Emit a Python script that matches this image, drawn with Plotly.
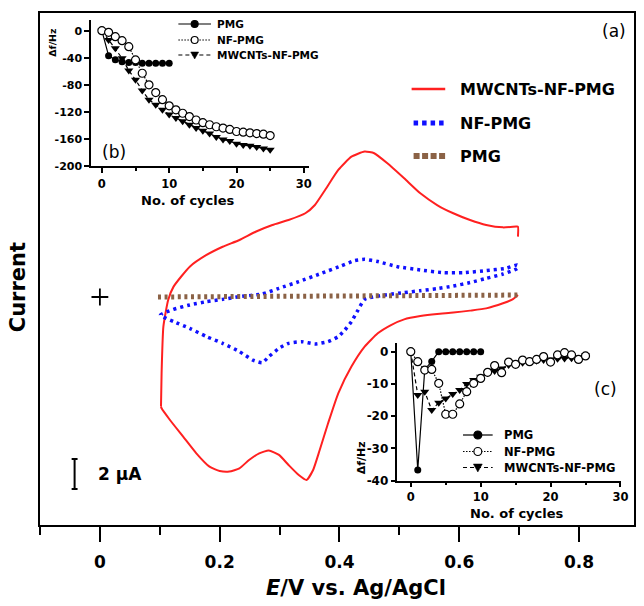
import plotly.graph_objects as go

# ---------------- main CV data (E / V, I / uA) ----------------
MW_E_fwd = [0.102, 0.103, 0.106, 0.114, 0.123, 0.150, 0.178, 0.205, 0.233, 0.260, 0.288, 0.315, 0.343, 0.359,
            0.376, 0.398, 0.420, 0.442, 0.458, 0.480, 0.508, 0.535, 0.563, 0.590, 0.618, 0.645, 0.673, 0.695,
            0.698, 0.698]
MW_I_fwd = [-7.31, -5.09, -1.98, -0.2, 0.69, 2.02, 2.8, 3.35, 3.8, 4.35, 4.8, 5.13, 5.58, 6.13,
            7.13, 8.47, 9.35, 9.69, 9.58, 8.91, 7.91, 6.91, 6.13, 5.58, 5.13, 4.8, 4.64, 4.69,
            4.69, 4.02]
MW_E_rev = [0.698, 0.689, 0.673, 0.645, 0.618, 0.590, 0.563, 0.535, 0.508, 0.486, 0.464, 0.442, 0.420,
            0.398, 0.381, 0.367, 0.356, 0.345, 0.332, 0.315, 0.299, 0.282, 0.266, 0.249, 0.233, 0.216,
            0.200, 0.183, 0.161, 0.139, 0.117, 0.103, 0.102]
MW_I_rev = [0.13, -0.16, -0.42, -0.76, -0.91, -1.04, -1.13, -1.27, -1.49, -1.87, -2.42, -3.31, -4.64,
            -6.42, -8.42, -10.2, -11.53, -12.2, -11.87, -11.2, -10.53, -10.24, -10.42, -10.87, -11.42, -11.64,
            -11.6, -11.31, -10.42, -9.31, -8.2, -7.42, -7.31]

NF_E_fwd = [0.101, 0.123, 0.150, 0.178, 0.205, 0.233, 0.271, 0.299, 0.332, 0.370, 0.403, 0.425, 0.442,
            0.464, 0.497, 0.535, 0.574, 0.607, 0.645, 0.678, 0.697]
NF_I_fwd = [-1.2, -0.82, -0.53, -0.31, -0.16, 0.02, 0.2, 0.58, 1.02, 1.58, 2.07, 2.42, 2.51,
            2.36, 2.02, 1.8, 1.62, 1.62, 1.76, 1.91, 2.13]
NF_E_rev = [0.697, 0.673, 0.645, 0.618, 0.590, 0.563, 0.535, 0.508, 0.475, 0.442, 0.431, 0.420, 0.409,
            0.398, 0.381, 0.359, 0.337, 0.315, 0.299, 0.282, 0.271, 0.255, 0.233, 0.205, 0.178, 0.150,
            0.123, 0.101]
NF_I_rev = [1.91, 1.53, 1.24, 0.96, 0.73, 0.56, 0.42, 0.29, 0.13, -0.16, -0.87, -1.64, -2.2,
            -2.64, -2.98, -3.13, -2.98, -3.09, -3.42, -3.98, -4.38, -4.2, -3.64, -3.09, -2.64, -2.09,
            -1.64, -1.2]

PMG_E = [0.097, 0.4, 0.70]
PMG_I = [0.0, 0.05, 0.13]

ORIGIN_E = [0.0]
ORIGIN_I = [0.0]

# ---------------- inset (b): frequency change vs cycles ----------------
cyc_b_pmg = [0, 1, 2, 3, 4, 5, 6, 7, 8, 9, 10]
df_b_pmg = [0, -37, -43, -46, -47, -47, -48, -48, -48, -48, -48]
cyc_b = [0, 1, 2, 3, 4, 5, 6, 7, 8, 9, 10, 11, 12, 13, 14, 15, 16, 17, 18, 19, 20, 21, 22, 23, 24, 25]
df_b_nf = [0, -2.4, -8.8, -14.7, -23.6, -43.2, -62.9, -80, -91.4, -102, -111, -117, -122, -127, -132,
           -136, -139, -142, -144, -146, -149, -150, -151, -152, -153, -155]
df_b_mw = [0, -13.7, -26, -40.7, -59, -72.7, -88.5, -102, -109.6, -117, -124, -129, -134, -139, -144,
           -148, -152, -157, -161, -163, -167, -169, -170, -172, -174, -176]

# ---------------- inset (c) ----------------
cyc_c_pmg = [0, 1, 2, 3, 4, 5, 6, 7, 8, 9, 10]
df_c_pmg = [0, -36.7, -5.5, -3, 0, 0, 0, 0, 0, 0, 0]
cyc_c = [0, 1, 2, 3, 4, 5, 6, 7, 8, 9, 10, 11, 12, 13, 14, 15, 16, 17, 18, 19, 20, 21, 22, 23, 24, 25]
df_c_nf = [0, -3.1, -5.7, -5.5, -9.8, -19.4, -19.4, -16.2, -12.4, -9.8, -8.3, -6.4, -4.3, -6.5, -3.2,
           -3.9, -2.6, -3.1, -2.4, -1.5, -3.2, -1.0, -0.3, -1.0, -2.4, -1.3]
df_c_mw = [0, -13.4, -12.4, -18.1, -15.8, -14.5, -13.1, -11.9, -10, -8.8, -7.8, -6.6, -6, -5.2, -4.1,
           -3.8, -3.4, -3.1, -2.8, -2.6, -2.4, -2.2, -2.1, -2.0, -1.8, -1.2]

series_names = ["PMG", "NF-PMG", "MWCNTs-NF-PMG"]
main_legend = ["MWCNTs-NF-PMG", "NF-PMG", "PMG"]
b_yticks = [0, -40, -80, -120, -160, -200]
b_yticktext = ["0", "-40", "-80", "-120", "-160", "-200"]
c_yticks = [0, -10, -20, -30, -40]
c_yticktext = ["0", "-10", "-20", "-30", "-40"]
cyc_ticks = [0, 10, 20, 30]

# ---------------- styling ----------------
W, H = 644, 606
ML, MR, MT, MB = 40, 3, 13, 81
PW, PH = W - ML - MR, H - MT - MB
FONT = "DejaVu Sans"
RED = "#ff2020"
BLUE = "#1010ff"
BROWN = "#8b6246"


def fx(px):
    return (px - ML) / PW


def fy(py):
    return (H - MB - py) / PH


fig = go.Figure()

# main CV curves
fig.add_trace(go.Scatter(x=MW_E_fwd + [None] + MW_E_rev, y=MW_I_fwd + [None] + MW_I_rev,
                         mode="lines", line=dict(color=RED, width=2, shape="spline", smoothing=0.5),
                         showlegend=False, connectgaps=False))
fig.add_trace(go.Scatter(x=NF_E_fwd + NF_E_rev, y=NF_I_fwd + NF_I_rev, mode="lines",
                         line=dict(color=BLUE, width=3.5, dash="3px,4px", shape="spline", smoothing=0.5),
                         showlegend=False))
fig.add_trace(go.Scatter(x=PMG_E, y=PMG_I, mode="lines",
                         line=dict(color=BROWN, width=5, dash="3px,3.6px"), showlegend=False))
fig.add_trace(go.Scatter(x=ORIGIN_E, y=ORIGIN_I, mode="markers",
                         marker=dict(symbol="cross-thin", size=12, line=dict(color="black", width=1.8)),
                         showlegend=False))

# insets
def inset_traces(xa, ya, cp, yp, c, ynf, ymw, msize):
    fig.add_trace(go.Scatter(x=cp, y=yp, xaxis=xa, yaxis=ya, mode="lines+markers", cliponaxis=False,
                             line=dict(color="black", width=1.2),
                             marker=dict(symbol="circle", size=msize, color="black"), showlegend=False))
    fig.add_trace(go.Scatter(x=c, y=ymw, xaxis=xa, yaxis=ya, mode="lines+markers", cliponaxis=False,
                             line=dict(color="black", width=1.2, dash="4px,3px"),
                             marker=dict(symbol="triangle-down", size=msize + 1, color="black"),
                             showlegend=False))
    fig.add_trace(go.Scatter(x=c, y=ynf, xaxis=xa, yaxis=ya, mode="lines+markers", cliponaxis=False,
                             line=dict(color="black", width=1.2, dash="1.5px,1.5px"),
                             marker=dict(symbol="circle", size=msize + 1, color="white",
                                         line=dict(color="black", width=1.2)),
                             showlegend=False))


inset_traces("x2", "y2", cyc_b_pmg, df_b_pmg, cyc_b, df_b_nf, df_b_mw, 7)
inset_traces("x3", "y3", cyc_c_pmg, df_c_pmg, cyc_c, df_c_nf, df_c_mw, 7)

inset_axis = dict(showline=True, linecolor="black", linewidth=1.5, ticks="outside", tickwidth=1.5,
                  tickcolor="black", ticklen=5, showgrid=False, zeroline=False)

fig.update_layout(
    width=W, height=H, margin=dict(l=ML, r=MR, t=MT, b=MB),
    paper_bgcolor="white", plot_bgcolor="white", showlegend=False,
    font=dict(family=FONT, color="black"),
    xaxis=dict(range=[-0.1, -0.1 + PW / 606], tick0=0, dtick=0.2, ticks="outside", ticklen=15, tickwidth=2,
               tickcolor="black", showline=True, linecolor="black", linewidth=2, mirror=True,
               showgrid=False, zeroline=False, ticklabelstandoff=6,
               tickfont=dict(family=FONT, size=17, weight="bold"),
               minor=dict(dtick=0.1, tick0=0, ticks="outside", ticklen=8, tickwidth=2, tickcolor="black")),
    yaxis=dict(range=[-15.2, 18.93], showticklabels=False, ticks="", showline=True, linecolor="black",
               linewidth=2, mirror=True, showgrid=False, zeroline=False),
    xaxis2=dict(domain=[fx(91.7), fx(311.7)], anchor="y2", range=[-1.6, 30.7], tickvals=cyc_ticks,
                tickfont=dict(family=FONT, size=11.5, weight="bold"), ticklabelstandoff=1,
                minor=dict(tickvals=[5, 15, 25], ticks="outside", ticklen=3, tickwidth=1.5, tickcolor="black"),
                **inset_axis),
    yaxis2=dict(domain=[fy(166), fy(20)], anchor="x2", range=[-200, 15.8], tickvals=b_yticks,
                ticktext=b_yticktext, tickfont=dict(family=FONT, size=11, weight="bold"), **inset_axis),
    xaxis3=dict(domain=[fx(401.7), fx(628)], anchor="y3", range=[-1.9, 30.1], tickvals=cyc_ticks,
                tickfont=dict(family=FONT, size=11.5, weight="bold"), ticklabelstandoff=0,
                minor=dict(tickvals=[5, 15, 25], ticks="outside", ticklen=3, tickwidth=1.5, tickcolor="black"),
                **inset_axis),
    yaxis3=dict(domain=[fy(480.7), fy(343)], anchor="x3", range=[-40, 2.7], tickvals=c_yticks,
                ticktext=c_yticktext, tickfont=dict(family=FONT, size=12, weight="bold"), **inset_axis),
)

ann = []
shapes = []


def text(px, py, s, size, bold=True, angle=0, xanchor="center"):
    ann.append(dict(x=fx(px), y=fy(py), xref="paper", yref="paper", text=s, showarrow=False,
                    textangle=angle, xanchor=xanchor, yanchor="middle",
                    font=dict(family=FONT, size=size, color="black", weight="bold" if bold else "normal")))


def hline(x0, x1, y, color, width, dash="solid"):
    shapes.append(dict(type="line", xref="paper", yref="paper", x0=fx(x0), x1=fx(x1), y0=fy(y), y1=fy(y),
                       line=dict(color=color, width=width, dash=dash)))


# axis titles
text(18, 287, "Current", 21, angle=-90)
text(360, 588, "<i>E</i>/V vs. Ag/AgCl", 21)
text(621, 31, "(a)", 17, bold=False)
text(115, 152, "(b)", 17, bold=False)
text(612, 389, "(c)", 17, bold=False)

# main legend
leg_rows = [89, 123, 156]
hline(416, 450, leg_rows[0], RED, 2.5)
hline(418, 452, leg_rows[1], BLUE, 5, "4.5px,4px")
hline(418, 450, leg_rows[2], BROWN, 6, "6px,2.5px")
for name, yy in zip(main_legend, leg_rows):
    text(463, yy, name, 16, xanchor="left")

# scale bar
shapes.append(dict(type="line", xref="paper", yref="paper", x0=fx(75), x1=fx(75), y0=fy(459), y1=fy(489),
                   line=dict(color="black", width=2)))
hline(72, 78, 459, "black", 2)
hline(72, 78, 489, "black", 2)
text(97, 474, "2 \u03bcA", 17, xanchor="left")

# inset labels
text(52, 42, "\u0394f/Hz", 9.5, angle=-90)
text(190, 200, "No. of cycles", 13)
text(365, 458, "\u0394f/Hz", 11, angle=-90)
text(523, 513, "No. of cycles", 13)


def marker_shape(kind, cx, cy, d):
    r = d / 2
    if kind == "tri":
        path = "M {} {} L {} {} L {} {} Z".format(fx(cx - r - 0.5), fy(cy - r + 0.5), fx(cx + r + 0.5),
                                                  fy(cy - r + 0.5), fx(cx), fy(cy + r + 0.5))
        shapes.append(dict(type="path", xref="paper", yref="paper", path=path, fillcolor="black",
                           line=dict(color="black", width=0.5)))
    else:
        shapes.append(dict(type="circle", xref="paper", yref="paper", x0=fx(cx - r), x1=fx(cx + r),
                           y0=fy(cy + r), y1=fy(cy - r),
                           fillcolor="black" if kind == "filled" else "white",
                           line=dict(color="black", width=1.2)))


def inset_legend(x0, x1, xt, rows, size, d):
    styles = [("solid", "filled"), ("1.5px,1.5px", "open"), ("4px,3px", "tri")]
    for (dash, kind), name, yy in zip(styles, series_names, rows):
        hline(x0, x1, yy, "black", 1.2, dash)
        marker_shape(kind, (x0 + x1) / 2, yy, d)
        text(xt, yy, name, size, xanchor="left")


inset_legend(180, 213, 217, [24, 40, 55], 10.5, 7)
inset_legend(468, 498, 507, [435, 451.5, 467.5], 11.5, 8)

fig.update_layout(annotations=ann, shapes=shapes)
fig.write_html("out.html")
